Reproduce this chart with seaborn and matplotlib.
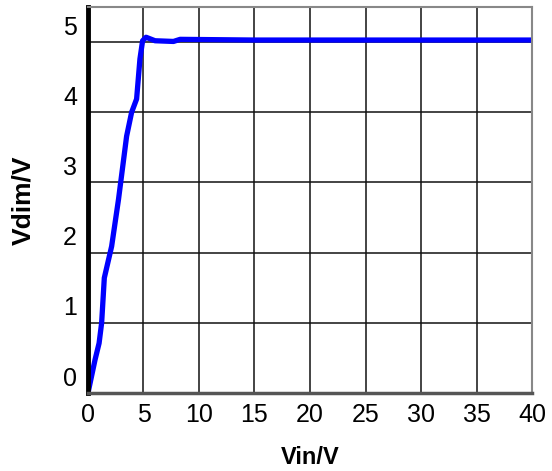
import numpy as np
import pandas as pd
import matplotlib
matplotlib.use("Agg")
import matplotlib.pyplot as plt
import matplotlib.transforms as mtransforms
import seaborn as sns

# values
vin = [0.0, 0.63, 1.0, 1.23, 1.47, 2.13, 2.75, 3.48, 3.93, 4.38, 4.68, 4.92,
       5.23, 6.04, 7.7, 8.3, 15.0, 25.0, 35.0, 40.0]
vdim = [0.0, 0.47, 0.71, 1.0, 1.64, 2.09, 2.76, 3.66, 4.0, 4.19, 4.76, 5.02,
        5.07, 5.02, 5.01, 5.04, 5.03, 5.03, 5.03, 5.03]
x_ticks = [0, 5, 10, 15, 20, 25, 30, 35, 40]
y_ticks = [0, 1, 2, 3, 4, 5]

df = pd.DataFrame({"Vin": vin, "Vdim": vdim})

sns.set_style("white")
plt.rcParams['font.family'] = ['Liberation Sans', 'DejaVu Sans']

fig = plt.figure(figsize=(5.52, 4.71), dpi=100)
ax = fig.add_axes([0.1594, 0.1656, 0.8044, 0.8194])

sns.lineplot(data=df, x="Vin", y="Vdim", color="#0000ff", linewidth=3.8,
             solid_joinstyle="round", solid_capstyle="round", ax=ax)

ax.set_xlim(0, 40)
ax.set_ylim(0, 5.5)
ax.set_xticks(x_ticks)
ax.set_yticks(y_ticks)
ax.set_xticklabels([str(t) for t in x_ticks], fontsize=18, color="black")
ax.set_yticklabels([str(t) for t in y_ticks], fontsize=18, color="black")
ax.grid(True, color="#111111", linewidth=1.1)
ax.set_axisbelow(True)
ax.tick_params(length=0, pad=7)
ax.tick_params(axis="y", pad=8)

# y labels sit a bit above their grid lines in the original
offset = mtransforms.ScaledTranslation(0, 0.17, fig.dpi_scale_trans)
for lab in ax.get_yticklabels():
    lab.set_transform(lab.get_transform() + offset)

ax.spines['left'].set_color("black")
ax.spines['left'].set_linewidth(3.5)
ax.spines['bottom'].set_color("#555555")
ax.spines['bottom'].set_linewidth(2.5)
ax.spines['top'].set_color("#888888")
ax.spines['right'].set_color("#888888")
ax.spines['top'].set_linewidth(1.5)
ax.spines['right'].set_linewidth(1.5)

ax.set_xlabel("Vin/V", fontsize=17, fontweight="bold", labelpad=14, color="black")
ax.set_ylabel("Vdim/V", fontsize=19, fontweight="bold", labelpad=20, color="black")

fig.savefig("out.png", dpi=100)
